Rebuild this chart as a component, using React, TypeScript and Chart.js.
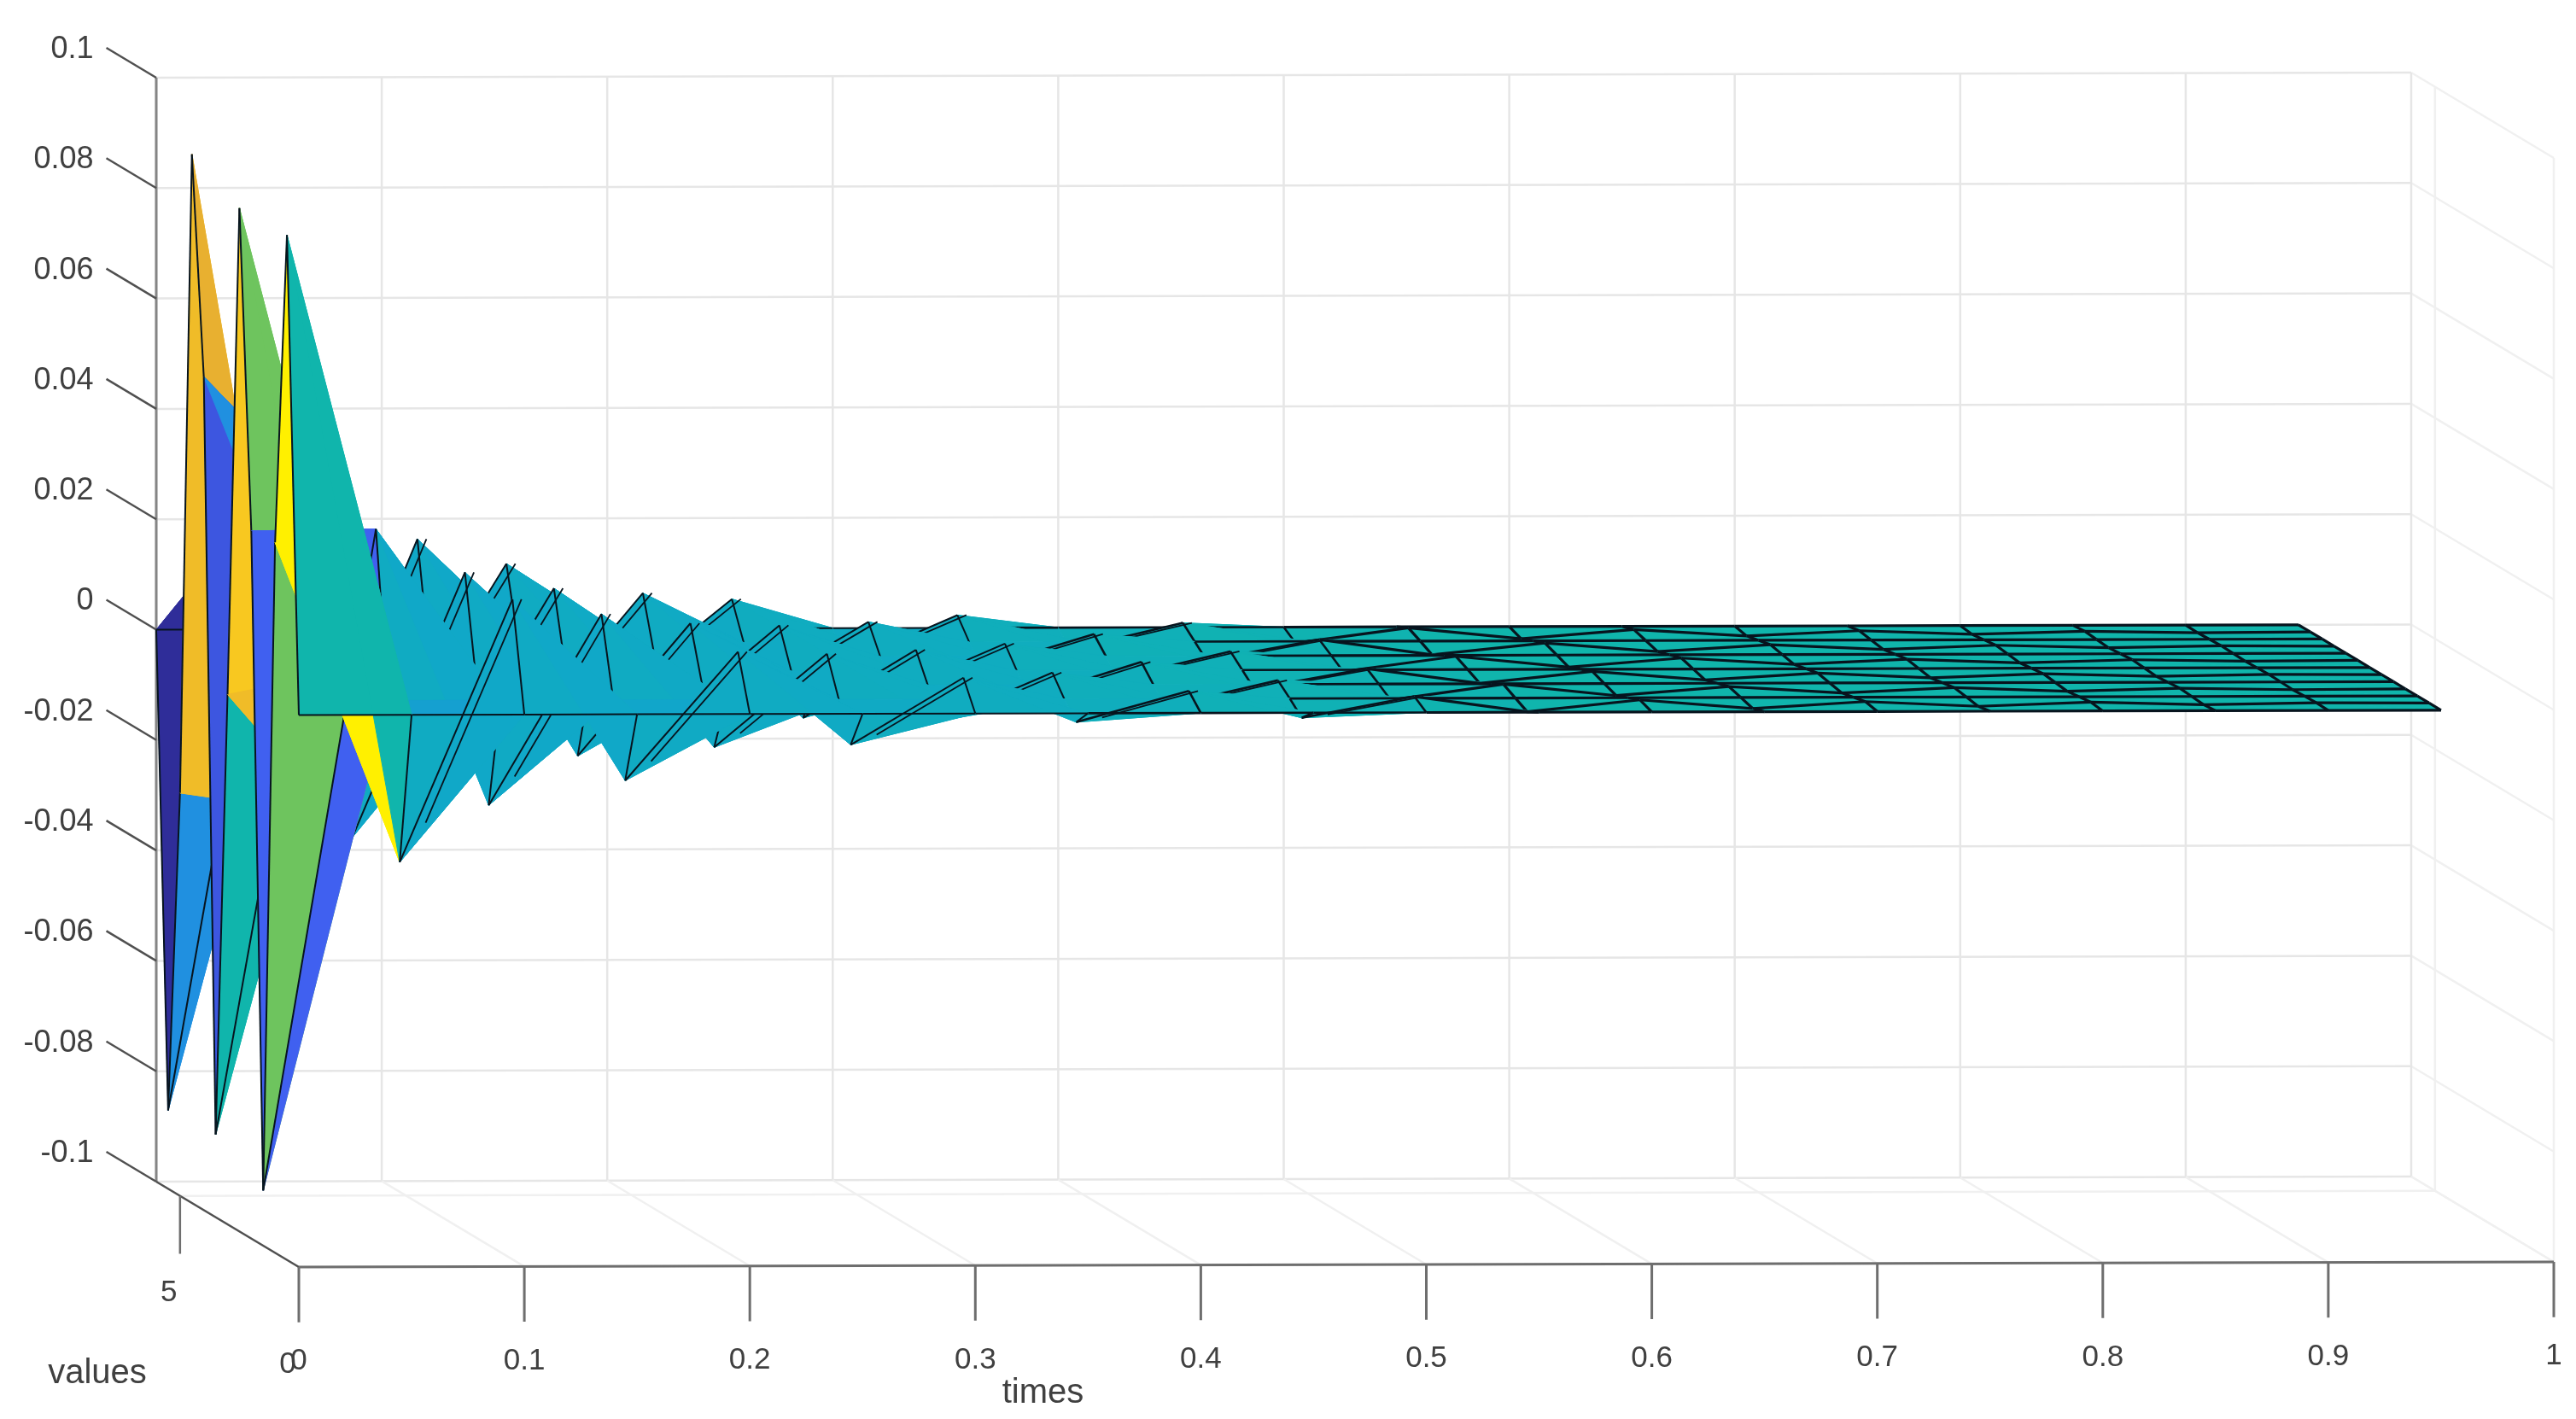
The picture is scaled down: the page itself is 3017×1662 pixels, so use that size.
import { useEffect, useRef } from "react";
import { Chart, registerables } from "chart.js";

Chart.register(...registerables);

const WIDTH = 3017;
const HEIGHT = 1662;

// axis ticks
const timeTicks = [0, 0.1, 0.2, 0.3, 0.4, 0.5, 0.6, 0.7, 0.8, 0.9, 1];
const timeTickLabels = ["0", "0.1", "0.2", "0.3", "0.4", "0.5", "0.6", "0.7", "0.8", "0.9", "1"];
const ampTicks = [0.1, 0.08, 0.06, 0.04, 0.02, 0, -0.02, -0.04, -0.06, -0.08, -0.1];
const ampTickLabels = ["0.1", "0.08", "0.06", "0.04", "0.02", "0", "-0.02", "-0.04", "-0.06", "-0.08", "-0.1"];
const valueTicks = [0, 5];

// mesh columns and rows
const times = [0, 0.05, 0.1, 0.15, 0.2, 0.25, 0.3, 0.35, 0.4, 0.45, 0.5, 0.55, 0.6, 0.65, 0.7, 0.75, 0.8, 0.85, 0.9, 0.95];
const values = [0, 0.5, 1, 1.5, 2, 2.5, 3, 3.5, 4, 4.5, 5, 5.5, 6];

// amplitude along each row
const row0 = [0, 0, 0, 0, 0, 0, 0, 0, 0, 0, 0, 0, 0, 0, 0, 0, 0, 0, 0, 0];
const row1 = [0.0857, -0.028, 0.0196, -0.0133, 0.01, -0.0069, 0.0052, -0.0029, 0.0027, -0.0022, 0.0016, -0.0012, 0.0009, -0.0007, 0.0005, -0.0004, 0.0003, -0.0002, 0.0001, 0];
const row2 = [0.0287, 0, 0, 0, 0, 0, 0, 0, 0, 0, 0, 0, 0, 0, 0, 0, 0, 0, 0, 0];
const row3 = [-0.09, 0.0298, -0.0203, 0.0143, -0.0099, 0.007, -0.0052, 0.0035, -0.0027, 0.002, -0.0016, 0.0012, -0.0009, 0.0007, -0.0005, 0.0004, -0.0003, 0.0002, -0.0001, 0];
const row4 = [0.0282, 0, 0, 0, 0, 0, 0, 0, 0, 0, 0, 0, 0, 0, 0, 0, 0, 0, 0, 0];
const row5 = [0.0854, -0.0287, 0.0193, -0.014, 0.01, -0.0072, 0.0051, -0.0036, 0.0028, -0.0021, 0.0015, -0.0012, 0.0009, -0.0007, 0.0005, -0.0004, 0.0003, -0.0002, 0.0001, 0];
const row6 = [-0.004, 0, 0, 0, 0, 0, 0, 0, 0, 0, 0, 0, 0, 0, 0, 0, 0, 0, 0, 0];
const row7 = [-0.085, 0.029, -0.02, 0.0138, -0.01, 0.007, -0.0052, 0.0036, -0.0027, 0.0021, -0.0016, 0.0011, -0.0009, 0.0007, -0.0005, 0.0004, -0.0003, 0.0002, -0.0001, 0];
const row8 = [0.051, 0, 0, 0, 0, 0, 0, 0, 0, 0, 0, 0, 0, 0, 0, 0, 0, 0, 0, 0];
const row9 = [0.09, -0.029, 0.0202, -0.014, 0.0103, -0.007, 0.005, -0.0035, 0.0027, -0.0021, 0.0016, -0.0012, 0.0009, -0.0007, 0.0005, -0.0004, 0.0003, -0.0002, 0.0001, 0];
const row10 = [-0.027, 0, 0, 0, 0, 0, 0, 0, 0, 0, 0, 0, 0, 0, 0, 0, 0, 0, 0, 0];
const row11 = [-0.0858, 0.029, -0.02, 0.0131, -0.0098, 0.0066, -0.0052, 0.0036, -0.0027, 0.0021, -0.0016, 0.0011, -0.0009, 0.0007, -0.0005, 0.0004, -0.0003, 0.0002, -0.0001, 0];
const row12 = [0, 0, 0, 0, 0, 0, 0, 0, 0, 0, 0, 0, 0, 0, 0, 0, 0, 0, 0, 0];
const rows = [row0, row1, row2, row3, row4, row5, row6, row7, row8, row9, row10, row11, row12];

// colour values of the first column of faces, each face is split in two
const firstUpper = [0, 0.09, 0.037, -0.06, 0.037, 0.075, 0, -0.065, 0.065, 0.07, -0.04, -0.09];
const firstLower = [0, 0.09, -0.06, -0.06, 0.037, 0.07, 0, -0.04, -0.04, 0.07, -0.04, -0.09];
// the early columns lean to blue in the picture
const columnShift = [0, -0.012, -0.013, -0.012, -0.012, -0.01, -0.01, -0.008, -0.006, -0.004, -0.002, 0, 0, 0, 0, 0, 0, 0, 0, 0];

// colormap as seen in the picture
const mapStops = [-0.1, -0.085, -0.06, -0.04, -0.015, 0, 0.037, 0.065, 0.075, 0.09];
const mapColors = [
  [44, 40, 140],
  [48, 48, 160],
  [64, 96, 240],
  [32, 144, 224],
  [16, 168, 200],
  [16, 181, 172],
  [110, 196, 94],
  [232, 176, 48],
  [248, 200, 32],
  [255, 240, 0],
];

function colorOf(z: number) {
  let i = 0;
  while (i < mapStops.length - 2 && z > mapStops[i + 1]) i++;
  const f = Math.min(1, Math.max(0, (z - mapStops[i]) / (mapStops[i + 1] - mapStops[i])));
  const c = mapColors[i].map((a, j) => Math.round(a + (mapColors[i + 1][j] - a) * f));
  return `rgb(${c[0]},${c[1]},${c[2]})`;
}

// fixed view of the 3D box
function project(t: number, v: number, z: number) {
  const w = v / 6;
  return {
    x: 350 + t * 2641 - w * 167,
    y: 1484 - t * 6 - w * 100 - ((z + 0.1) / 0.2) * 1293,
  };
}

function pathSet(points: { x: number; y: number }[], color: string, width: number) {
  return {
    data: points,
    showLine: true,
    fill: false,
    borderColor: color,
    borderWidth: width,
    pointRadius: 0,
    tension: 0,
  };
}

function faceSet(points: { x: number; y: number }[], color: string) {
  return { ...pathSet(points, color, 0), faceColor: color };
}

function buildDatasets() {
  const sets: any[] = [];
  const grid = "#e6e6e6";
  const faint = "#f0f0f0";
  const axis = "#6e6e6e";
  const mesh = "#07141e";

  ampTicks.forEach((z) => {
    sets.push(pathSet([project(0, 6, z), project(1, 6, z)], grid, 2.5));
    sets.push(pathSet([project(1, 6, z), project(1, 0, z)], faint, 2.5));
  });
  timeTicks.forEach((t) => {
    sets.push(pathSet([project(t, 6, -0.1), project(t, 6, 0.1)], grid, 2.5));
    sets.push(pathSet([project(t, 6, -0.1), project(t, 0, -0.1)], faint, 2.5));
  });
  valueTicks.forEach((v) => {
    sets.push(pathSet([project(0, v, -0.1), project(1, v, -0.1)], faint, 2.5));
    sets.push(pathSet([project(1, v, -0.1), project(1, v, 0.1)], faint, 2.5));
  });

  // axes and tick marks
  sets.push(pathSet([project(0, 6, -0.1), project(0, 6, 0.1)], "#858585", 3));
  sets.push(pathSet([project(0, 6, -0.1), project(0, 0, -0.1)], "#505050", 2.5));
  sets.push(pathSet([project(0, 0, -0.1), project(1, 0, -0.1)], axis, 3));
  ampTicks.forEach((z) => {
    sets.push(pathSet([project(0, 6, z), project(0, 8.1, z)], "#505050", 2.5));
  });
  timeTicks.forEach((t) => {
    sets.push(pathSet([project(t, 0, -0.1), project(t, 0, -0.11)], axis, 3));
  });
  sets.push(pathSet([project(0, 5, -0.1), project(0, 5, -0.1105)], axis, 2.5));

  // surface, back rows first, near columns last
  for (let k = values.length - 2; k >= 0; k--) {
    for (let n = times.length - 2; n >= 0; n--) {
      const a = project(times[n], values[k], rows[k][n]);
      const b = project(times[n], values[k + 1], rows[k + 1][n]);
      const c = project(times[n + 1], values[k + 1], rows[k + 1][n + 1]);
      const d = project(times[n + 1], values[k], rows[k][n + 1]);
      const zA = rows[k][n];
      const zB = rows[k + 1][n];
      const zC = rows[k + 1][n + 1];
      const zD = rows[k][n + 1];
      const shift = columnShift[n];

      if (n === 0) {
        if (k === 8) {
          sets.push(faceSet([a, b, c], colorOf(firstUpper[k])));
          sets.push(faceSet([a, c, d], colorOf(firstLower[k])));
        } else {
          sets.push(faceSet([a, b, d], colorOf(firstUpper[k])));
          sets.push(faceSet([b, c, d], colorOf(firstLower[k])));
        }
      } else if (k % 2 === 1) {
        sets.push(faceSet([a, b, c], colorOf(shift - Math.abs(zA) * 0.4)));
        sets.push(faceSet([a, d, c], colorOf(shift - Math.abs(zA + zD + zC) / 3)));
      } else {
        sets.push(faceSet([a, b, d], colorOf(shift)));
        sets.push(faceSet([b, c, d], colorOf(shift - Math.abs(zB + zC + zD) / 3)));
      }

      // mesh lines, only those the surface does not hide; every edge is
      // drawn by the last face that touches it so nothing paints over it
      const lineWidth = n >= 10 ? 3.2 : n >= 7 ? 2.6 : 2;
      const upperRow = k + 1;
      const upperIsOdd = upperRow % 2 === 1;
      const rising = zC > zB;
      if (upperIsOdd ? rising || n >= 10 : n >= 9 || upperRow === values.length - 1) {
        sets.push(pathSet([b, c], mesh, lineWidth));
      }
      if (upperIsOdd && rising && n >= 1 && n < 10) {
        // the rising flanks show as paired lines, starting a little above the trough
        const b2 = project(times[n] + 0.0115, values[k + 1], zB + (zC - zB) * 0.15);
        const c2 = project(times[n + 1] + 0.004, values[k + 1], zC);
        sets.push(pathSet([b2, c2], mesh, 1.8));
      }
      if (k === 0) {
        sets.push(pathSet([a, d], mesh, lineWidth));
      }
      if (k % 2 === 0 || n >= 8) {
        sets.push(pathSet([d, c], mesh, lineWidth));
      }
      if (n === 0) {
        sets.push(pathSet([a, b], mesh, lineWidth));
      }
    }
  }

  return sets.map((s, i) => ({ ...s, order: sets.length - i }));
}

const facePlugin = {
  id: "faceFill",
  beforeDatasetDraw(chart: any, args: any) {
    const color = chart.data.datasets[args.index].faceColor;
    if (!color) return;
    const pts = args.meta.data;
    const ctx = chart.ctx;
    ctx.save();
    ctx.beginPath();
    pts.forEach((p: any, i: number) => (i ? ctx.lineTo(p.x, p.y) : ctx.moveTo(p.x, p.y)));
    ctx.closePath();
    ctx.fillStyle = color;
    ctx.strokeStyle = color;
    ctx.lineWidth = 1;
    ctx.fill();
    ctx.stroke();
    ctx.restore();
  },
};

const labelPlugin = {
  id: "boxLabels",
  afterDraw(chart: any) {
    const { ctx, scales } = chart;
    const put = (p: { x: number; y: number }, text: string, dx: number, dy: number, align: CanvasTextAlign, size: number) => {
      ctx.font = `${size}px "Liberation Sans"`;
      ctx.textAlign = align;
      ctx.textBaseline = "middle";
      ctx.fillStyle = "#404040";
      ctx.fillText(text, scales.x.getPixelForValue(p.x) + dx, scales.y.getPixelForValue(p.y) + dy);
    };
    ctx.save();
    ampTicks.forEach((z, i) => put(project(0, 8.1, z), ampTickLabels[i], -15, 2, "right", 36));
    timeTicks.forEach((t, i) => put(project(t, 0, -0.11), timeTickLabels[i], 0, 46, "center", 35));
    valueTicks.forEach((v) => put(project(0, v, -0.1105), String(v), -13, 46, "center", 35));
    put(project(0, 0, -0.1), "values", -236, 125, "center", 40);
    put(project(0.33, 0, -0.1), "times", 0, 150, "center", 40);
    ctx.restore();
  },
};

export default function App() {
  const canvasRef = useRef<HTMLCanvasElement>(null);

  useEffect(() => {
    if (!canvasRef.current) return;
    const chart = new Chart(canvasRef.current, {
      type: "scatter",
      data: { datasets: buildDatasets() },
      options: {
        animation: false,
        responsive: false,
        devicePixelRatio: 1,
        events: [],
        layout: { padding: 0 },
        plugins: { legend: { display: false }, tooltip: { enabled: false } },
        scales: {
          x: { type: "linear", min: 0, max: WIDTH, display: false },
          y: { type: "linear", min: 0, max: HEIGHT, reverse: true, display: false },
        },
      },
      plugins: [facePlugin, labelPlugin],
    });
    return () => chart.destroy();
  }, []);

  return (
    <div style={{ position: "absolute", left: 0, top: 0, width: WIDTH, height: HEIGHT, background: "#fff" }}>
      <canvas ref={canvasRef} width={WIDTH} height={HEIGHT} style={{ filter: "blur(0.7px)" }} />
    </div>
  );
}
